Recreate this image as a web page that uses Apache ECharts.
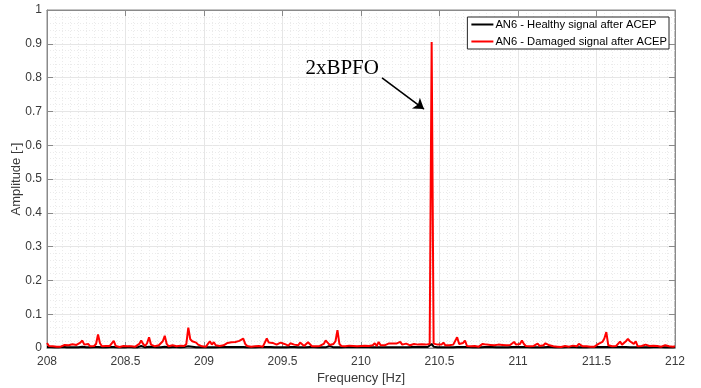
<!DOCTYPE html>
<html>
<head>
<meta charset="utf-8">
<script src="https://cdn.jsdelivr.net/npm/echarts@6/dist/echarts.min.js"></script>
<style>
  html, body { margin: 0; padding: 0; background: #fff; }
  #chart { width: 701px; height: 388px; }
</style>
</head>
<body>
<div id="chart"></div>
<script>
// spectrum bins: 208 Hz .. 212 Hz, 0.0125 Hz resolution (16 bins per row = 0.2 Hz)
const F0 = 208
const DF = 0.0125

const healthy = [
  0.003,0.002,0.003,0.002,0.002,0.003,0.002,0.003,0.004,0.003,0.002,0.003,0.002,0.003,0.002,0.003,
  0.002,0.003,0.004,0.003,0.002,0.003,0.002,0.002,0.003,0.002,0.003,0.002,0.002,0.003,0.002,0.002,
  0.003,0.002,0.003,0.002,0.002,0.003,0.002,0.003,0.002,0.003,0.004,0.003,0.002,0.003,0.002,0.004,
  0.006,0.003,0.002,0.003,0.004,0.002,0.003,0.002,0.002,0.003,0.002,0.003,0.004,0.003,0.002,0.002,
  0.003,0.002,0.003,0.002,0.002,0.003,0.003,0.004,0.005,0.006,0.004,0.003,0.002,0.003,0.002,0.003,
  0.002,0.003,0.002,0.003,0.002,0.003,0.002,0.002,0.003,0.002,0.003,0.002,0.003,0.004,0.003,0.005,
  0.003,0.002,0.003,0.002,0.003,0.002,0.002,0.003,0.002,0.003,0.002,0.002,0.003,0.002,0.003,0.002,
  0.003,0.002,0.003,0.002,0.002,0.003,0.002,0.003,0.002,0.003,0.002,0.002,0.003,0.002,0.003,0.002,
  0.002,0.003,0.002,0.003,0.002,0.002,0.003,0.002,0.003,0.002,0.002,0.003,0.002,0.003,0.002,0.004,
  0.006,0.003,0.002,0.003,0.002,0.003,0.002,0.002,0.003,0.002,0.003,0.002,0.003,0.004,0.003,0.002,
  0.003,0.002,0.003,0.002,0.003,0.002,0.002,0.003,0.002,0.003,0.002,0.003,0.002,0.003,0.002,0.003,
  0.002,0.003,0.002,0.003,0.002,0.003,0.002,0.003,0.002,0.002,0.003,0.002,0.003,0.002,0.003,0.002,
  0.003,0.002,0.003,0.004,0.012,0.004,0.003,0.002,0.003,0.002,0.003,0.002,0.003,0.002,0.003,0.002,
  0.002,0.003,0.004,0.003,0.002,0.003,0.002,0.003,0.002,0.002,0.003,0.002,0.003,0.002,0.002,0.003,
  0.002,0.003,0.002,0.003,0.002,0.002,0.003,0.002,0.003,0.002,0.003,0.002,0.002,0.003,0.002,0.003,
  0.002,0.003,0.002,0.003,0.002,0.003,0.002,0.002,0.003,0.002,0.003,0.002,0.003,0.002,0.002,0.003,
  0.002,0.003,0.002,0.002,0.003,0.002,0.003,0.002,0.002,0.003,0.002,0.003,0.002,0.003,0.002,0.002,
  0.003,0.002,0.003,0.002,0.002,0.003,0.002,0.003,0.002,0.003,0.002,0.003,0.004,0.003,0.002,0.003,
  0.002,0.003,0.002,0.003,0.002,0.003,0.002,0.003,0.002,0.002,0.003,0.002,0.003,0.002,0.003,0.002,
  0.003,0.002,0.003,0.002,0.002,0.003,0.002,0.003,0.002,0.003,0.002,0.002,0.003,0.002,0.003,0.002,
  0.003
]

const damaged = [
  0.015,0.006,0.004,0.005,0.003,0.004,0.006,0.004,0.005,0.009,0.012,0.008,0.007,0.011,0.006,0.009,
  0.010,0.016,0.022,0.010,0.006,0.012,0.005,0.004,0.006,0.012,0.040,0.014,0.005,0.003,0.006,0.004,
  0.006,0.005,0.021,0.006,0.004,0.003,0.005,0.006,0.004,0.005,0.007,0.005,0.009,0.004,0.008,0.012,
  0.022,0.012,0.006,0.014,0.032,0.010,0.006,0.005,0.004,0.008,0.012,0.020,0.036,0.012,0.005,0.006,
  0.008,0.012,0.005,0.004,0.007,0.010,0.006,0.012,0.060,0.026,0.020,0.022,0.016,0.010,0.006,0.005,
  0.006,0.004,0.012,0.020,0.010,0.017,0.008,0.006,0.006,0.010,0.008,0.012,0.015,0.013,0.017,0.018,
  0.018,0.020,0.021,0.024,0.028,0.012,0.006,0.005,0.004,0.006,0.005,0.004,0.006,0.005,0.004,0.007,
  0.028,0.016,0.020,0.015,0.012,0.010,0.013,0.016,0.019,0.012,0.010,0.007,0.014,0.018,0.010,0.006,
  0.008,0.016,0.014,0.006,0.008,0.017,0.012,0.005,0.004,0.005,0.004,0.006,0.008,0.012,0.022,0.016,
  0.009,0.010,0.012,0.020,0.053,0.012,0.006,0.008,0.005,0.006,0.007,0.005,0.006,0.007,0.005,0.006,
  0.006,0.005,0.007,0.005,0.006,0.004,0.008,0.014,0.006,0.018,0.008,0.006,0.008,0.011,0.013,0.012,
  0.013,0.011,0.013,0.012,0.018,0.010,0.012,0.013,0.010,0.008,0.010,0.012,0.014,0.010,0.008,0.011,
  0.012,0.010,0.012,0.012,0.905,0.013,0.008,0.010,0.009,0.010,0.016,0.008,0.012,0.008,0.006,0.010,
  0.014,0.032,0.012,0.008,0.015,0.022,0.006,0.004,0.005,0.004,0.006,0.005,0.004,0.008,0.012,0.008,
  0.010,0.011,0.009,0.010,0.008,0.009,0.010,0.008,0.009,0.010,0.008,0.007,0.009,0.012,0.018,0.010,
  0.010,0.012,0.022,0.012,0.006,0.004,0.005,0.004,0.006,0.008,0.013,0.006,0.005,0.008,0.014,0.009,
  0.008,0.013,0.005,0.003,0.004,0.005,0.003,0.004,0.006,0.005,0.004,0.006,0.007,0.012,0.005,0.012,
  0.012,0.005,0.004,0.005,0.003,0.004,0.005,0.004,0.006,0.012,0.010,0.018,0.028,0.047,0.008,0.006,
  0.005,0.004,0.006,0.010,0.019,0.010,0.013,0.020,0.027,0.020,0.016,0.012,0.020,0.005,0.004,0.006,
  0.006,0.010,0.012,0.006,0.005,0.007,0.010,0.006,0.005,0.004,0.006,0.008,0.010,0.005,0.006,0.004,
  0.005
]

const seriesNames = ['AN6 - Healthy signal after ACEP', 'AN6 - Damaged signal after ACEP']

// annotation, in data coordinates
const annoText = '2xBPFO'
const annoTextAt = [209.88, 0.828]
const arrowFrom = [210.134, 0.799]
const arrowTo = [210.401, 0.707]

const toPairs = (vals) => vals.map((v, i) => [F0 + i * DF, v])

const axisGrey = '#8a8a8a'
const labelColor = '#3a3a3a'
const font = 'Liberation Sans, Arial, Helvetica, sans-serif'

const chart = echarts.init(document.getElementById('chart'), null, { renderer: 'canvas' })

const baseX = {
  type: 'value',
  min: 208,
  max: 212,
  interval: 0.5,
  axisLine: { show: true, onZero: false, lineStyle: { color: axisGrey, width: 1 } },
  axisTick: { show: true, inside: true, length: 6, lineStyle: { color: axisGrey } },
}
const baseY = {
  type: 'value',
  min: 0,
  max: 1,
  interval: 0.1,
  axisLine: { show: true, onZero: false, lineStyle: { color: axisGrey, width: 1 } },
  axisTick: { show: true, inside: true, length: 6, lineStyle: { color: axisGrey } },
}

chart.setOption({
  animation: false,
  backgroundColor: '#fff',
  textStyle: { fontFamily: font },
  grid: {
    left: 47, right: 26, top: 10, bottom: 40,
    containLabel: false,
    outerBoundsMode: 'none',
    show: true, borderColor: axisGrey, borderWidth: 1, backgroundColor: '#fff',
  },
  legend: {
    orient: 'vertical',
    right: 32,
    top: 17,
    data: seriesNames,
    icon: 'rect',
    itemWidth: 22,
    itemHeight: 2,
    itemGap: 4,
    padding: [1, 2, 1, 4],
    borderColor: '#262626',
    borderWidth: 1,
    backgroundColor: '#fff',
    textStyle: { fontSize: 11.2, lineHeight: 13, color: '#000', fontFamily: font, padding: [0, 0, 0, -3] },
  },
  xAxis: [
    {
      ...baseX,
      position: 'bottom',
      name: 'Frequency [Hz]',
      nameLocation: 'middle',
      nameGap: 24,
      nameMoveOverlap: false,
      nameTextStyle: { fontSize: 13, color: labelColor, fontFamily: font },
      axisLabel: { color: labelColor, fontSize: 12, margin: 8, fontFamily: font },
      splitLine: { show: true, lineStyle: { color: '#e6e6e6', width: 1 } },
      minorTick: { show: false, splitNumber: 10 },
      minorSplitLine: { show: true, lineStyle: { color: '#ebebeb', type: [1, 2], width: 1 } },
    },
    { ...baseX, position: 'top', axisLabel: { show: false }, splitLine: { show: false } },
  ],
  yAxis: [
    {
      ...baseY,
      position: 'left',
      name: 'Amplitude [-]',
      nameLocation: 'middle',
      nameGap: 24,
      nameMoveOverlap: false,
      nameTextStyle: { fontSize: 13, color: labelColor, fontFamily: font },
      axisLabel: { color: labelColor, fontSize: 12, margin: 5, fontFamily: font },
      splitLine: { show: true, lineStyle: { color: '#e6e6e6', width: 1 } },
      minorTick: { show: false, splitNumber: 5 },
      minorSplitLine: { show: true, lineStyle: { color: '#ebebeb', type: [1, 2], width: 1 } },
    },
    { ...baseY, position: 'right', axisLabel: { show: false }, splitLine: { show: false } },
  ],
  series: [
    {
      name: seriesNames[0],
      type: 'line',
      symbol: 'none',
      data: toPairs(healthy),
      lineStyle: { color: '#000', width: 2 },
      itemStyle: { color: '#000' },
    },
    {
      name: seriesNames[1],
      type: 'line',
      symbol: 'none',
      data: toPairs(damaged),
      lineStyle: { color: '#ff0000', width: 2 },
      itemStyle: { color: '#ff0000' },
      markLine: {
        silent: true,
        animation: false,
        symbol: ['none', 'arrow'],
        symbolSize: 10,
        label: { show: false },
        lineStyle: { color: '#000', width: 1.6, type: 'solid' },
        data: [[{ coord: arrowFrom }, { coord: arrowTo }]],
      },
      markPoint: {
        silent: true,
        symbol: 'circle',
        symbolSize: 0,
        label: {
          show: true,
          formatter: annoText,
          position: 'inside',
          color: '#000',
          fontSize: 21,
          fontFamily: 'Liberation Serif, Times New Roman, serif',
        },
        data: [{ coord: annoTextAt }],
      },
    },
  ],
})
</script>
</body>
</html>
